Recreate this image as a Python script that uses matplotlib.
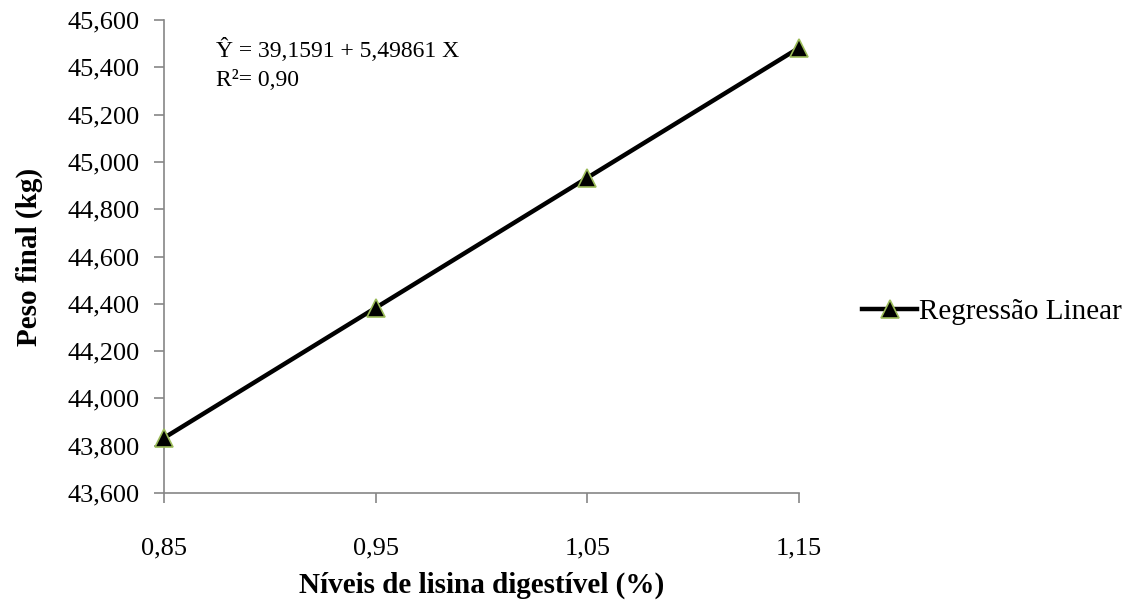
import matplotlib.pyplot as plt
from matplotlib.ticker import FuncFormatter

# niveis de lisina digestivel (%) e peso final estimado (kg)
lisina = [0.85, 0.95, 1.05, 1.15]
peso = [43.833, 44.383, 44.933, 45.482]
x_ticks = [0.85, 0.95, 1.05, 1.15]
y_ticks = [43.6, 43.8, 44.0, 44.2, 44.4, 44.6, 44.8, 45.0, 45.2, 45.4, 45.6]

plt.rcParams['font.family'] = ['Liberation Serif', 'DejaVu Serif']

fig = plt.figure(figsize=(11.32, 6.01), dpi=100)
ax = fig.add_axes([0.1449, 0.1797, 0.5609, 0.7870])

ax.plot(lisina, peso, color='black', linewidth=3.2, marker='^', markersize=13,
        markerfacecolor='black', markeredgecolor='#9BBB59', markeredgewidth=1.2,
        label='Regressão Linear', clip_on=False, zorder=3)

ax.set_xlim(0.85, 1.15)
ax.set_ylim(43.6, 45.6)
ax.set_xticks(x_ticks)
ax.set_yticks(y_ticks)
ax.xaxis.set_major_formatter(FuncFormatter(lambda v, p: f"{v:.2f}".replace('.', ',')))
ax.yaxis.set_major_formatter(FuncFormatter(lambda v, p: f"{v:.3f}".replace('.', ',')))

gray = '#868686'
for side in ['top', 'right']:
    ax.spines[side].set_visible(False)
for side in ['left', 'bottom']:
    ax.spines[side].set_color(gray)
    ax.spines[side].set_linewidth(1.2)
ax.tick_params(axis='both', direction='out', length=7, width=1.2, color=gray,
               labelsize=19)
ax.tick_params(axis='y', pad=10.5)
ax.tick_params(axis='x', pad=25)

ax.set_ylabel('Peso final (kg)', fontsize=21, fontweight='bold')
ax.yaxis.set_label_coords(-0.19, 0.5)
ax.set_xlabel('Níveis de lisina digestível (%)', fontsize=21, fontweight='bold')
ax.xaxis.set_label_coords(0.5, -0.167)

ax.text(0.082, 0.937, 'Ŷ = 39,1591 + 5,49861 X', transform=ax.transAxes,
        fontsize=17, va='center', ha='left')
ax.text(0.082, 0.873, 'R²= 0,90', transform=ax.transAxes,
        fontsize=17, va='center', ha='left')

ax.legend(loc='center left', bbox_to_anchor=(1.099, 0.383), frameon=False,
          fontsize=21, handlelength=1.9, handletextpad=0.05, borderpad=0,
          borderaxespad=0)

fig.savefig('out.png', dpi=100)
